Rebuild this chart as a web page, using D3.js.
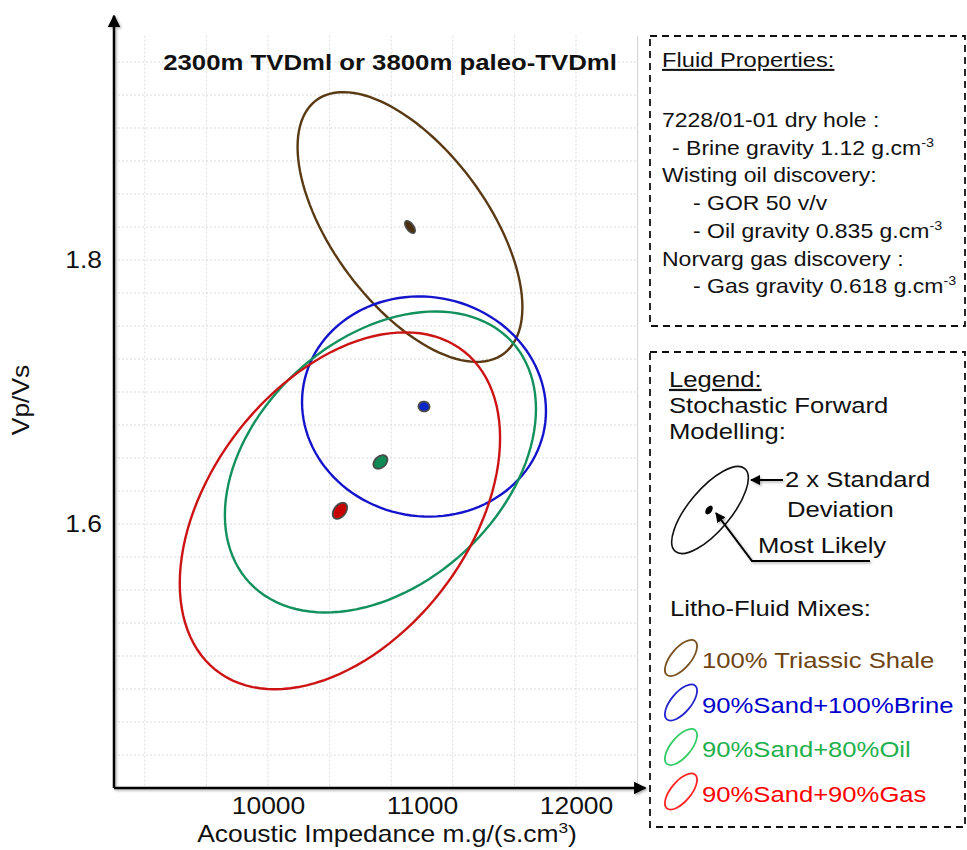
<!DOCTYPE html>
<html><head><meta charset="utf-8">
<script src="https://cdn.jsdelivr.net/npm/d3@7"></script>
<style>
body{margin:0;background:#fff}
svg{display:block}
text{font-family:"Liberation Sans",Arial,Helvetica,sans-serif;fill:#111}
</style>
</head><body>
<svg id="c" width="967" height="850"></svg>
<script>
// ---------- data ----------
const xTicks = [10000, 11000, 12000];
const yTicks = [1.6, 1.8];
const seriesNames = ["100% Triassic Shale", "90%Sand+100%Brine", "90%Sand+80%Oil", "90%Sand+90%Gas"];
const meanIA   = [10922, 11013, 10730, 10467];      // most likely acoustic impedance
const meanVpVs = [1.825, 1.689, 1.647, 1.610];      // most likely Vp/Vs
const sdIA     = [365, 396, 505, 520];              // standard deviation of AI
const sdVpVs   = [0.0511, 0.0417, 0.0570, 0.0676];  // standard deviation of Vp/Vs
const corr     = [-0.594, -0.04, 0.353, 0.407];     // correlation AI vs Vp/Vs
const fluidLines = [
  ["7228/01-01 dry hole :", 0, null],
  ["- Brine gravity 1.12 g.cm", 1, "-3"],
  ["Wisting oil discovery:", 0, null],
  ["- GOR 50 v/v", 2, null],
  ["- Oil gravity 0.835 g.cm", 2, "-3"],
  ["Norvarg gas discovery :", 0, null],
  ["- Gas gravity 0.618 g.cm", 2, "-3"]
];

// ---------- styles ----------
const ellStroke = ["#5a3a14", "#1414cc", "#12915e", "#cc1414"];
const dotFill   = ["#4a2e0c", "#0a28c8", "#0f8a55", "#c80000"];
const legText   = ["#6e4414", "#0000cc", "#22b04c", "#ff0000"];
const legIcon   = ["#7a5020", "#2222cc", "#33cc66", "#ff2222"];
const SX = 1.15;   // horizontal text stretch of the original figure

const svg = d3.select("#c");
const x = d3.scaleLinear().domain([9000, 12000]).range([114, 576]);
const y = d3.scaleLinear().domain([1.4, 1.8]).range([788, 260]);

function txt(parent, px, py, size, str, opts = {}) {
  const t = parent.append("text")
    .attr("transform", `translate(${px},${py})${opts.rot ? ` rotate(${opts.rot})` : ""} scale(${SX},1)`)
    .attr("font-size", size);
  if (opts.anchor) t.attr("text-anchor", opts.anchor);
  if (opts.bold) t.attr("font-weight", "bold");
  if (opts.under) t.attr("text-decoration", "underline");
  if (opts.fill) t.style("fill", opts.fill);
  if (str !== null) t.text(str);
  return t;
}

const defs = svg.append("defs");
defs.append("marker").attr("id","ah").attr("viewBox","0 0 10 10").attr("refX",9).attr("refY",5)
  .attr("markerWidth",5).attr("markerHeight",5).attr("orient","auto-start-reverse")
  .append("path").attr("d","M0,0 L10,5 L0,10 z").attr("fill","#000");
const sh = defs.append("filter").attr("id","sh").attr("x","-20%").attr("y","-20%").attr("width","140%").attr("height","140%");
sh.append("feDropShadow").attr("dx",1.5).attr("dy",1.5).attr("stdDeviation",1.2).attr("flood-color","#000").attr("flood-opacity",0.3);

// ---------- grid ----------
const gridX = d3.range(9200, 12401, 400);
const gridY = d3.range(1.425, 1.951, 0.025);
const gTop = 1.97, xEnd = 12400;
const g = svg.append("g");
g.selectAll(".gx").data(gridX).join("line")
  .attr("x1", d => x(d)).attr("x2", d => x(d)).attr("y1", y(gTop)).attr("y2", y(1.4))
  .attr("stroke", (d,i) => i === gridX.length-1 ? "#d0d0d0" : "#dcdcdc")
  .attr("stroke-dasharray", (d,i) => i === gridX.length-1 ? null : "2,2");
g.selectAll(".gy").data(gridY).join("line")
  .attr("x1", x(9000)).attr("x2", x(xEnd)).attr("y1", d => y(d)).attr("y2", d => y(d))
  .attr("stroke","#dcdcdc").attr("stroke-dasharray","2,2");

// ---------- ellipses ----------
function contour(i, k) {
  const pts = d3.range(0, 121).map(j => {
    const t = j / 120 * 2 * Math.PI;
    const r = corr[i];
    const ia = meanIA[i] + k * sdIA[i] * Math.cos(t);
    const vv = meanVpVs[i] + k * sdVpVs[i] * (r * Math.cos(t) + Math.sqrt(1 - r*r) * Math.sin(t));
    return [x(ia), y(vv)];
  });
  return d3.line().curve(d3.curveLinearClosed)(pts);
}
const idx = d3.range(seriesNames.length);
svg.append("g").selectAll("path").data(idx).join("path")
  .attr("d", i => contour(i, 2)).attr("fill","none")
  .attr("stroke", i => ellStroke[i]).attr("stroke-width", 2.4);
svg.append("g").selectAll("path").data(idx).join("path")
  .attr("d", i => contour(i, 0.09)).attr("fill", i => dotFill[i])
  .attr("stroke","#4a4a4a").attr("stroke-width",1.8);

// ---------- axes ----------
const ax = svg.append("g").attr("filter","url(#sh)");
ax.append("line").attr("x1", x(9000)).attr("x2", x(12450)).attr("y1", y(1.4)).attr("y2", y(1.4))
  .attr("stroke","#000").attr("stroke-width",2.5).attr("marker-end","url(#ah)");
ax.append("line").attr("x1", x(9000)).attr("x2", x(9000)).attr("y1", y(1.4)).attr("y2", y(1.985))
  .attr("stroke","#000").attr("stroke-width",2.5).attr("marker-end","url(#ah)");

const xa = svg.append("g").attr("transform",`translate(0,${y(1.4)})`)
  .call(d3.axisBottom(x).tickValues(xTicks).tickSize(0).tickPadding(10).tickFormat(d3.format("d")));
xa.select(".domain").remove();
xa.selectAll("text").attr("font-size",23).attr("transform",`scale(${SX},1)`)
  .style("fill","#111").style("font-family",'"Liberation Sans",Arial,sans-serif');
const ya = svg.append("g").attr("transform",`translate(${x(9000)},0)`)
  .call(d3.axisLeft(y).tickValues(yTicks).tickSize(0).tickPadding(12).tickFormat(d3.format(".1f")));
ya.select(".domain").remove();
ya.selectAll("text").attr("font-size",23).attr("x",-12/SX).attr("transform",`scale(${SX},1)`)
  .style("fill","#111").style("font-family",'"Liberation Sans",Arial,sans-serif');

const xl = txt(svg, 387, 842, 23, null, {anchor:"middle"});
xl.append("tspan").text("Acoustic Impedance m.g/(s.cm");
xl.append("tspan").text("3").attr("font-size",15).attr("dy",-9);
xl.append("tspan").text(")").attr("dy",9);
txt(svg, 29, 400, 23, "Vp/Vs", {anchor:"middle", rot:-90});

txt(svg, 390, 70, 22.4, "2300m TVDml or 3800m paleo-TVDml", {anchor:"middle", bold:true});

// ---------- fluid properties box ----------
const dash = {stroke:"#111", "stroke-width":1.8, "stroke-dasharray":"7,5", fill:"none"};
function dRect(x0,y0,w,h){ const r = svg.append("rect").attr("x",x0).attr("y",y0).attr("width",w).attr("height",h); Object.entries(dash).forEach(([k,v])=>r.attr(k,v)); }
dRect(650, 36, 315, 290);
txt(svg, 662, 67, 20.6, "Fluid Properties:", {under:true});
const indents = [662, 672, 693];
fluidLines.forEach((l, i) => {
  const t = txt(svg, indents[l[1]], 127 + i*27.7, 20, null);
  t.append("tspan").text(l[0]);
  if (l[2]) t.append("tspan").text(l[2]).attr("font-size",12.5).attr("dy",-8);
});

// ---------- legend box ----------
dRect(650, 352, 315, 475);
const LF = 22.3;
txt(svg, 669, 387, LF, "Legend:", {under:true});
txt(svg, 669, 413, LF, "Stochastic Forward");
txt(svg, 669, 439, LF, "Modelling:");
svg.append("ellipse").attr("cx",710).attr("cy",510).attr("rx",54).attr("ry",21)
  .attr("transform","rotate(-50,710,510)").attr("fill","none").attr("stroke","#111").attr("stroke-width",1.6);
svg.append("ellipse").attr("cx",709).attr("cy",510).attr("rx",5).attr("ry",3)
  .attr("transform","rotate(-55,709,510)").attr("fill","#000");
const ar = svg.append("g").attr("filter","url(#sh)");
ar.append("line").attr("x1",783).attr("y1",480).attr("x2",751).attr("y2",480)
  .attr("stroke","#000").attr("stroke-width",2).attr("marker-end","url(#ah)");
ar.append("polyline").attr("points","870,561 752,561 716,513").attr("fill","none")
  .attr("stroke","#000").attr("stroke-width",2).attr("marker-end","url(#ah)");
txt(svg, 785, 487, LF, "2 x Standard");
txt(svg, 787, 517, LF, "Deviation");
txt(svg, 758, 553, LF, "Most Likely");
txt(svg, 670, 616, LF, "Litho-Fluid Mixes:");

const li = svg.append("g").selectAll("g").data(idx).join("g")
  .attr("transform", i => `translate(0,${i*44.5})`);
li.append("ellipse").attr("cx",681).attr("cy",658).attr("rx",22).attr("ry",10)
  .attr("transform","rotate(-50,681,658)").attr("fill","none")
  .attr("stroke", i => legIcon[i]).attr("stroke-width",1.8);
li.each(function(i){ txt(d3.select(this), 702, 668, LF, seriesNames[i], {fill: legText[i]}); });
</script>
</body></html>
